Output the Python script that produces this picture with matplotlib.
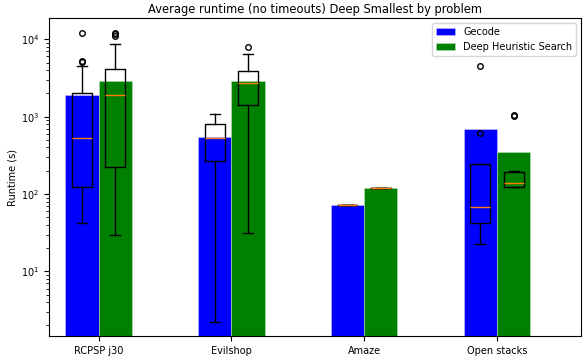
import numpy as np
import matplotlib
matplotlib.use("Agg")
import matplotlib.pyplot as plt

problems = ["RCPSP j30", "Evilshop", "Amaze", "Open stacks"]

# average runtime (bars)
gecode_avg = [1885, 540, 72.5, 698]
dhs_avg = [2920, 2920, 120, 345]

# box statistics per problem: q1, median, q3, lower whisker, upper whisker
gecode_q1 = [124, 267, 72, 41.7]
gecode_med = [528, 530, 72, 69]
gecode_q3 = [2040, 810, 72, 246]
gecode_lo = [42.4, 2.2, 72, 22.3]
gecode_hi = [4517, 1080, 72, 246]
gecode_fliers = [[5050, 5300, 11960], [], [], [620, 4517]]

dhs_q1 = [223, 1410, 119, 125]
dhs_med = [1885, 2760, 120, 140]
dhs_q3 = [4090, 3890, 121, 192]
dhs_lo = [30, 31.8, 119, 125]
dhs_hi = [8800, 6390, 121, 196]
dhs_fliers = [[11200, 11700, 12200], [8020], [], [1010, 1050]]


def make_stats(q1, med, q3, lo, hi, fl):
    return [dict(q1=a, med=b, q3=c, whislo=d, whishi=e, fliers=f)
            for a, b, c, d, e, f in zip(q1, med, q3, lo, hi, fl)]


x = np.arange(len(problems))
w = 0.25

fig = plt.figure(figsize=(5.83, 3.56), dpi=100)
ax = fig.add_axes([0.084, 0.056, 0.9126, 0.8926])

ax.bar(x - w / 2, gecode_avg, w, color="blue", edgecolor="#c8c8ff", linewidth=0.4, label="Gecode")
ax.bar(x + w / 2, dhs_avg, w, color="green", edgecolor="#b8dcb8", linewidth=0.4, label="Deep Heuristic Search")

boxprops = dict(linewidth=1.0, color="black")
flierprops = dict(marker="o", markerfacecolor="none", markeredgecolor="black",
                  markersize=4, markeredgewidth=1.0)
medprops = dict(color="#ff7f0e", linewidth=1.0)
ax.bxp(make_stats(gecode_q1, gecode_med, gecode_q3, gecode_lo, gecode_hi, gecode_fliers),
       positions=x - w / 2, widths=0.15, boxprops=boxprops,
       whiskerprops=boxprops, capprops=boxprops, flierprops=flierprops,
       medianprops=medprops, manage_ticks=False)
ax.bxp(make_stats(dhs_q1, dhs_med, dhs_q3, dhs_lo, dhs_hi, dhs_fliers),
       positions=x + w / 2, widths=0.15, boxprops=boxprops,
       whiskerprops=boxprops, capprops=boxprops, flierprops=flierprops,
       medianprops=medprops, manage_ticks=False)

ax.set_yscale("log")
ax.set_ylim(1.46, 18700)
ax.set_xlim(-0.373, 3.633)
ax.set_xticks(x)
ax.set_xticklabels(problems, fontsize=7)
ax.tick_params(axis="y", labelsize=7)
ax.set_ylabel("Runtime (s)", fontsize=7, labelpad=2)
ax.set_title("Average runtime (no timeouts) Deep Smallest by problem", fontsize=8.3, pad=4)
ax.legend(loc="upper right", fontsize=7)

fig.savefig("out.png", dpi=100)
